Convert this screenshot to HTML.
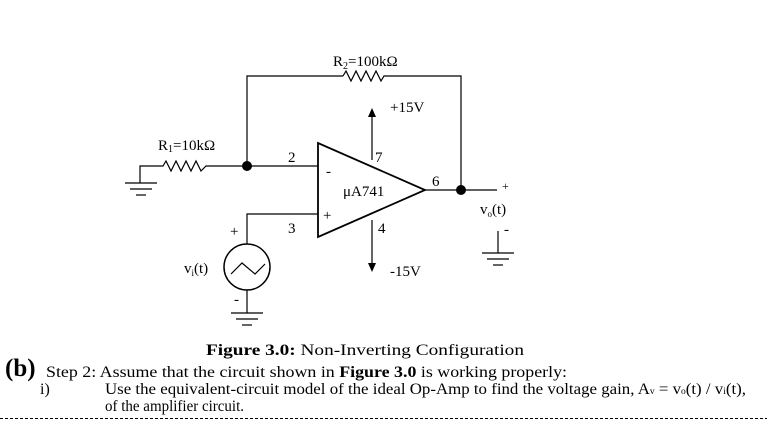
<!DOCTYPE html>
<html><head><meta charset="utf-8"><style>
html,body{margin:0;padding:0;background:#fff;}
svg{display:block;font-family:"Liberation Serif",serif;}
</style></head><body>
<svg width="767" height="422" viewBox="0 0 767 422" xmlns="http://www.w3.org/2000/svg">
<g stroke="#000" stroke-width="1.2" fill="none">
<polyline points="247,166 247,76 343,76"/>
<polyline points="343,76 346,71 351,81 356,71 361,81 366,71 371,81 376,71 381,81 384,76 387,76"/>
<polyline points="387,76 461,76 461,190"/>
<polyline points="140,183 140,166 163,166 166,161 171,171 176,161 181,171 186,161 191,171 196,161 201,171 206,166 210,166 318,166"/>
<line x1="125" y1="183" x2="157" y2="183"/>
<line x1="130" y1="189" x2="152" y2="189"/>
<line x1="136" y1="195" x2="146" y2="195"/>
<polyline points="318,214 247,214 247,244"/>
<circle cx="247" cy="267" r="23" stroke-width="1.5"/>
<polyline points="231,274 242,263 255,274 265,264" stroke-width="1.2"/>
<line x1="247" y1="290" x2="247" y2="313"/>
<line x1="231" y1="313" x2="263" y2="313"/>
<line x1="236" y1="319" x2="258" y2="319"/>
<line x1="242" y1="325" x2="252" y2="325"/>
<polygon points="318,143 318,237 425,190" stroke-width="1.8"/>
<line x1="372" y1="160" x2="372" y2="116"/>
<line x1="372" y1="220" x2="372" y2="264"/>
<line x1="425" y1="190" x2="497" y2="190"/>
<line x1="498" y1="231" x2="498" y2="253"/>
<line x1="482" y1="253" x2="514" y2="253"/>
<line x1="487" y1="259" x2="509" y2="259"/>
<line x1="493" y1="265" x2="503" y2="265"/>
</g>
<polygon points="372,108 368,117 376,117" fill="#000"/>
<polygon points="372,272 368,263 376,263" fill="#000"/>
<circle cx="247" cy="166" r="5" fill="#000"/>
<circle cx="461" cy="190" r="5" fill="#000"/>
<g font-size="15" fill="#000">
<text x="333" y="66">R<tspan font-size="10" dy="3">2</tspan><tspan dy="-3">=100kΩ</tspan></text>
<text x="390" y="112">+15V</text>
<text x="158" y="150">R<tspan font-size="10" dy="2">1</tspan><tspan dy="-2">=10kΩ</tspan></text>
<text x="288" y="162">2</text>
<text x="375" y="162">7</text>
<text x="432" y="186">6</text>
<text x="343" y="196">μA741</text>
<text x="326" y="176">-</text>
<text x="323" y="220">+</text>
<text x="288" y="233">3</text>
<text x="378" y="233">4</text>
<text x="390" y="276">-15V</text>
<text x="184" y="273">v<tspan font-size="9" dy="3">i</tspan><tspan dy="-3">(t)</tspan></text>
<text x="230" y="236">+</text>
<text x="234" y="304">-</text>
<text x="480" y="214">v<tspan font-size="9" dy="3">o</tspan><tspan dy="-3">(t)</tspan></text>
<text x="502" y="190" font-size="12">+</text>
<text x="504" y="234">-</text>
</g>
<g font-size="16" fill="#000">
<text x="206" y="355" textLength="318" lengthAdjust="spacingAndGlyphs"><tspan font-weight="bold">Figure 3.0:</tspan> Non-Inverting Configuration</text>
<text x="5" y="376" font-size="25" font-weight="bold">(b)</text>
<text x="46" y="377" textLength="521" lengthAdjust="spacingAndGlyphs">Step 2: Assume that the circuit shown in <tspan font-weight="bold">Figure 3.0</tspan> is working properly:</text>
<text x="40" y="394">i)</text>
<text x="105" y="394" textLength="641" lengthAdjust="spacingAndGlyphs">Use the equivalent-circuit model of the ideal Op-Amp to find the voltage gain, A<tspan font-size="9">v</tspan> = v<tspan font-size="9">o</tspan>(t) / v<tspan font-size="9">i</tspan>(t),</text>
<text x="105" y="411" textLength="139" lengthAdjust="spacingAndGlyphs">of the amplifier circuit.</text>
</g>
<line x1="0" y1="418.5" x2="767" y2="418.5" stroke="#000" stroke-width="1" stroke-dasharray="3,2"/>
</svg>
</body></html>
